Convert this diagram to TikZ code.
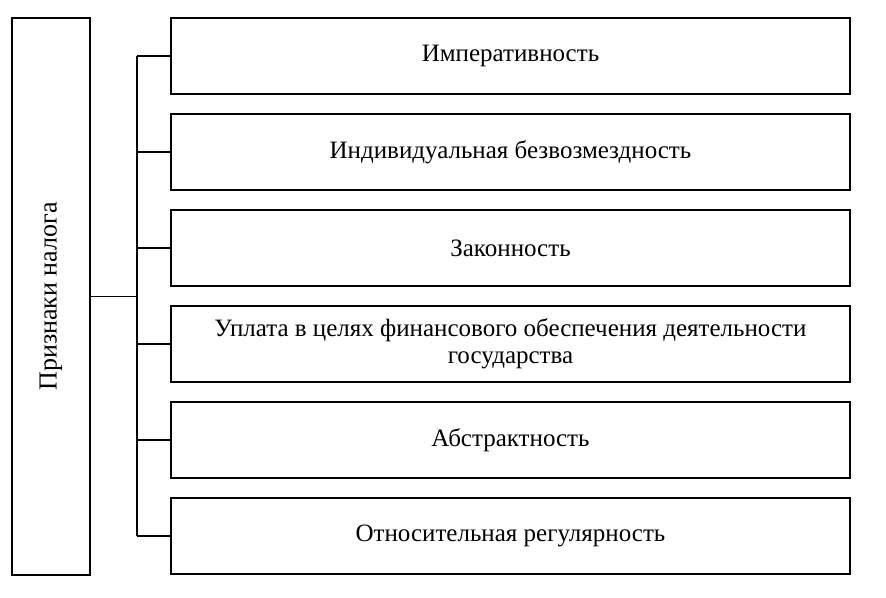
\documentclass[tikz,border=0pt]{standalone}
\usepackage{fontspec}
\setmainfont{Liberation Serif}
\begin{document}
\begin{tikzpicture}[x=1pt,y=-1pt]
% Set the styles
\tikzset{
  rootbox/.style={draw, line width=1.3pt, rotate=90, minimum width=557pt, minimum height=78pt, inner sep=0pt, font=\fontsize{26}{30}\selectfont},
  signbox/.style={draw, line width=1.3pt, minimum width=679pt, minimum height=76pt, inner sep=0pt, align=center, font=\fontsize{25}{27}\selectfont},
  link/.style={line width=1.3pt}
}
\useasboundingbox (0,0) rectangle (886,597);

% Draw the left box
\node[rootbox] (root) at (51,296.5) {Признаки налога};

% Draw the boxes with the signs
\node[signbox] (b1) at (510.5,56) {Императивность};
\node[signbox] (b2) at (510.5,152) {Индивидуальная безвозмездность};
\node[signbox] (b3) at (510.5,248) {Законность};
\node[signbox] (b4) at (510.5,344) {Уплата в целях финансового обеспечения деятельности\\государства};
\node[signbox] (b5) at (510.5,440) {Абстрактность};
\node[signbox] (b6) at (510.5,536) {Относительная регулярность};

% Draw the connectors
\coordinate (hub) at (137,296.5);
\draw[link] (root.south) -- (hub);
\draw[link] (hub |- b1.west) -- (hub |- b6.west);
\foreach \i in {1,...,6}
  \draw[link] (hub |- b\i.west) -- (b\i.west);
\end{tikzpicture}
\end{document}
